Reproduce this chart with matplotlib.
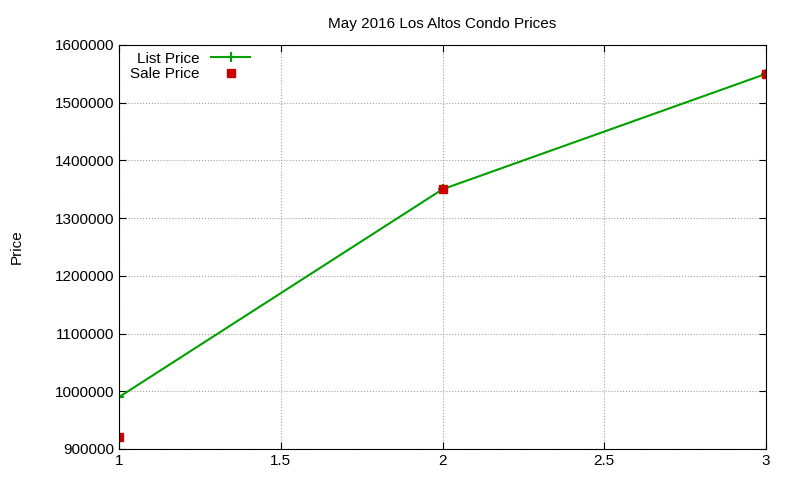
import matplotlib
matplotlib.use("Agg")
import matplotlib.pyplot as plt

x = [1, 2, 3]
list_price = [990000, 1350000, 1550000]
sale_price = [920000, 1350000, 1550000]
xticks = [1, 1.5, 2, 2.5, 3]
yticks = [900000, 1000000, 1100000, 1200000, 1300000, 1400000, 1500000, 1600000]

plt.rcParams['font.family'] = ['Liberation Sans', 'DejaVu Sans']
fig = plt.figure(figsize=(8, 4.8), dpi=100)
ax = fig.add_axes([119/800, 1-449/480, (766-119)/800, (449-45)/480])
ax.plot(x, list_price, color='#00a000', lw=1.5, marker='+', ms=7, mew=1.5, label='List Price')
ax.plot(x, sale_price, ls='none', marker='s', color='#cc0000', ms=5.5, label='Sale Price')
ax.set_xlim(1, 3)
ax.set_ylim(900000, 1600000)
ax.set_xticks(xticks)
ax.set_xticklabels(['1', '1.5', '2', '2.5', '3'])
ax.set_yticks(yticks)
ax.set_yticklabels([str(v) for v in yticks])
ax.grid(True, color='#a0a0a0', ls=':', lw=0.8)
ax.tick_params(direction='in', top=True, right=True, labelsize=11, length=5)
ax.set_title('May 2016 Los Altos Condo Prices', fontsize=11, pad=12)
ax.set_ylabel('Price', fontsize=11, labelpad=22)
leg = ax.legend(loc='upper left', bbox_to_anchor=(0.0, 1.01), frameon=False, markerfirst=False,
                fontsize=11, handlelength=2.5, borderaxespad=0.3, labelspacing=0.1)
for t in leg.get_texts():
    t.set_ha('right')
fig.savefig('out.png', dpi=100)
